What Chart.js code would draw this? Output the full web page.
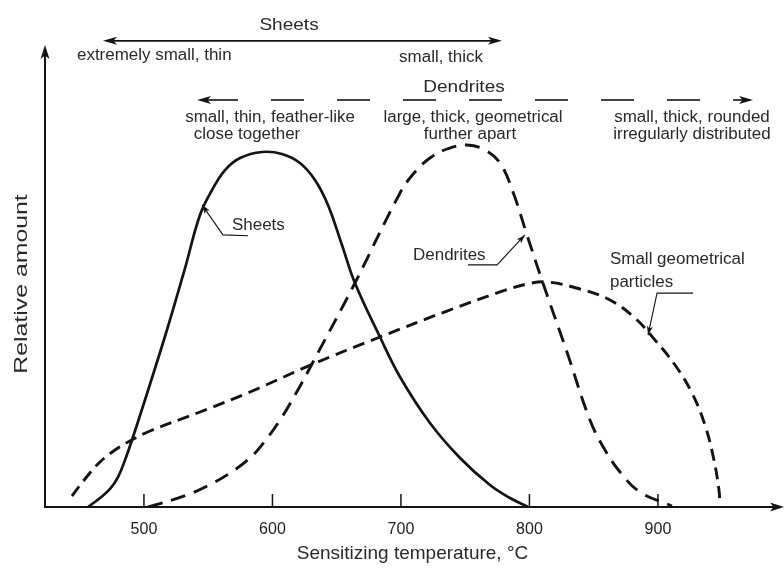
<!DOCTYPE html>
<html><head><meta charset="utf-8">
<script src="https://cdn.jsdelivr.net/npm/chart.js@4.4.1/dist/chart.umd.min.js"></script>
<style>html,body{margin:0;padding:0;background:#fff;}</style>
</head><body>
<canvas id="c" width="784" height="569"></canvas>
<script>
// ---- data (temperature in °C, relative amount 0-100) ----
const tickValues = [500, 600, 700, 800, 900];

const sheetsT = [456.5,465.8,473.6,479.8,485.3,490.7,500.8,517.9,532.0,543.6,553.0,563.1,574.8,591.9,607.4,621.4,633.1,643.2,654.1,664.2,683.7,699.3,722.6,746.0,769.3,784.9,798.9];
const sheetsV = [0,1.95,3.9,6.49,10.17,14.5,23.16,38.31,51.73,63.2,68.61,72.94,75.54,76.84,76.41,74.46,70.78,65.37,56.71,48.48,36.8,28.14,18.18,10.61,4.76,1.95,0];

const dendT = [503.2,533.5,553.7,567.0,582.5,594.2,605.9,617.6,631.6,664.2,699.3,710.9,722.6,735.8,751.4,765.4,777.1,787.2,798.1,810.5,829.2,847.1,858.8,870.5,886.0,910.9];
const dendV = [0,2.6,5.19,7.36,10.61,14.29,18.83,24.24,31.39,48.48,67.97,72.51,75.54,77.49,78.35,77.27,74.46,68.18,58.87,48.48,33.55,18.83,12.34,7.58,3.25,0.22];

const partT = [444.0,454.1,465.8,477.5,489.1,504.7,543.6,582.5,631.6,683.7,735.8,777.1,798.1,813.7,839.3,862.7,882.1,897.7,913.3,926.5,936.6,943.6,947.5,948.3];
const partV = [2.38,6.06,9.74,12.34,14.29,16.45,20.56,24.89,30.95,36.8,42.42,46.54,48.27,48.7,47.19,44.81,40.91,36.15,30.74,24.68,17.75,10.17,3.68,0.43];

const xTitle = 'Sensitizing temperature, °C';
const yTitle = 'Relative amount';

const pts = (t, v) => t.map((x, i) => ({x: x, y: v[i]}));

// ---- annotation texts (positions in data units) ----
const FONT = '"Liberation Sans", Arial, sans-serif';
const INK = '#141414';
const TXT = '#2a2a2a';
const labels = [
  {t: 'Sheets', x: 612.9, y: 104.3, size: 17, sx: 1.12, align: 'center'},
  {t: 'extremely small, thin', x: 447.9, y: 97.6, size: 16, sx: 1.06, align: 'left'},
  {t: 'small, thick', x: 731.2, y: 97.2, size: 16, sx: 1.06, align: 'center'},
  {t: 'Dendrites', x: 749.1, y: 90.9, size: 17, sx: 1.12, align: 'center'},
  {t: 'small, thin, feather-like', x: 598.1, y: 84.2, size: 16, sx: 1.06, align: 'center'},
  {t: 'close together', x: 580.2, y: 80.7, size: 16, sx: 1.06, align: 'center'},
  {t: 'large, thick, geometrical', x: 756.1, y: 84.2, size: 16, sx: 1.06, align: 'center'},
  {t: 'further apart', x: 753.7, y: 80.7, size: 16, sx: 1.06, align: 'center'},
  {t: 'small, thick, rounded', x: 926.5, y: 84.2, size: 16, sx: 1.06, align: 'center'},
  {t: 'irregularly distributed', x: 926.5, y: 80.7, size: 16, sx: 1.06, align: 'center'},
  {t: 'Sheets', x: 568.5, y: 61.0, size: 16, sx: 1.06, align: 'left'},
  {t: 'Dendrites', x: 709.4, y: 54.5, size: 16, sx: 1.06, align: 'left'},
  {t: 'Small geometrical', x: 862.7, y: 53.5, size: 16, sx: 1.06, align: 'left'},
  {t: 'particles', x: 862.7, y: 48.5, size: 16, sx: 1.06, align: 'left'}
];
// leader lines: polyline, arrow at last point
const leaders = [
  [[581.0, 58.7], [561.5, 58.9], [545.2, 65.4]],
  [[752.2, 52.4], [774.8, 52.4], [796.5, 58.9]],
  [[927.3, 46.3], [899.3, 46.3], [892.3, 37.2]]
];
const rangeArrows = [
  {from: 468.1, to: 778.6, y: 100.9, dash: []},
  {from: 541.3, to: 974.0, y: 88.1, dash: [33, 33]}
];

function arrowHead(ctx, x1, y1, x2, y2, len, half) {
  const a = Math.atan2(y2 - y1, x2 - x1);
  ctx.save();
  ctx.translate(x2, y2);
  ctx.rotate(a);
  ctx.beginPath();
  ctx.moveTo(0, 0);
  ctx.lineTo(-len, -half);
  ctx.lineTo(-len * 0.75, 0);
  ctx.lineTo(-len, half);
  ctx.closePath();
  ctx.fill();
  ctx.restore();
}

const deco = {
  id: 'deco',
  afterDraw(chart) {
    const ctx = chart.ctx, xs = chart.scales.x, ys = chart.scales.y, ca = chart.chartArea;
    const X = v => xs.getPixelForValue(v), Y = v => ys.getPixelForValue(v);
    ctx.save();
    ctx.strokeStyle = INK; ctx.fillStyle = INK;
    // axes with arrows
    ctx.lineWidth = 2;
    ctx.beginPath();
    ctx.moveTo(ca.left, ca.top + 4); ctx.lineTo(ca.left, ca.bottom); ctx.lineTo(ca.right, ca.bottom);
    ctx.stroke();
    arrowHead(ctx, ca.left, ca.bottom, ca.left, ca.top, 14, 4.5);
    arrowHead(ctx, ca.left, ca.bottom, ca.right + 4, ca.bottom, 14, 4.5);
    // inward ticks
    ctx.lineWidth = 1.5;
    xs.ticks.forEach(tk => {
      const px = X(tk.value);
      ctx.beginPath(); ctx.moveTo(px, ca.bottom); ctx.lineTo(px, ca.bottom - 13); ctx.stroke();
    });
    // range arrows
    ctx.lineWidth = 1.6;
    rangeArrows.forEach(r => {
      const x1 = X(r.from), x2 = X(r.to), y = Y(r.y);
      ctx.setLineDash(r.dash);
      ctx.beginPath();
      ctx.moveTo(x1 + 8, y); ctx.lineTo(x2 - 8, y); ctx.stroke();
      ctx.setLineDash([]);
      arrowHead(ctx, x2, y, x1, y, 14, 4);
      arrowHead(ctx, x1, y, x2, y, 14, 4);
    });
    // leaders
    ctx.lineWidth = 1.1;
    leaders.forEach(L => {
      ctx.beginPath();
      L.forEach((p, i) => { const px = X(p[0]), py = Y(p[1]); i ? ctx.lineTo(px, py) : ctx.moveTo(px, py); });
      ctx.stroke();
      const a = L[L.length - 2], b = L[L.length - 1];
      arrowHead(ctx, X(a[0]), Y(a[1]), X(b[0]), Y(b[1]), 9, 3);
    });
    // texts
    ctx.fillStyle = TXT;
    ctx.textBaseline = 'middle';
    labels.forEach(l => {
      ctx.save();
      ctx.font = l.size + 'px ' + FONT;
      ctx.textAlign = l.align;
      ctx.translate(X(l.x), Y(l.y));
      ctx.scale(l.sx, 1);
      ctx.fillText(l.t, 0, 0);
      ctx.restore();
    });
    // y axis title
    ctx.save();
    ctx.font = '18px ' + FONT;
    ctx.textAlign = 'center';
    ctx.translate(22, (ca.top + ca.bottom) / 2 + 8);
    ctx.rotate(-Math.PI / 2);
    ctx.scale(1.38, 1);
    ctx.fillText(yTitle, 0, 0);
    ctx.restore();
    ctx.restore();
  }
};

new Chart(document.getElementById('c'), {
  type: 'scatter',
  data: {
    datasets: [
      {label: 'Sheets', data: pts(sheetsT, sheetsV), borderColor: INK, borderWidth: 2.7, borderDash: []},
      {label: 'Dendrites', data: pts(dendT, dendV), borderColor: INK, borderWidth: 2.9, borderDash: [15, 9]},
      {label: 'Small geometrical particles', data: pts(partT, partV), borderColor: INK, borderWidth: 2.9, borderDash: [12, 7]}
    ].map(d => Object.assign(d, {showLine: true, pointRadius: 0, pointHoverRadius: 0, fill: false, tension: 0.4}))
  },
  options: {
    responsive: false,
    animation: false,
    devicePixelRatio: 1,
    layout: {padding: {top: 45, right: 4, left: 0, bottom: 0}},
    plugins: {legend: {display: false}, tooltip: {enabled: false}},
    scales: {
      x: {
        type: 'linear', min: 423, max: 995,
        grid: {display: false}, border: {display: false},
        afterBuildTicks: s => { s.ticks = tickValues.map(v => ({value: v})); },
        ticks: {font: {size: 16, family: FONT}, color: '#222', padding: 5, maxRotation: 0, autoSkip: false},
        title: {display: true, text: xTitle, font: {size: 19, family: FONT}, color: TXT, padding: {top: 0, bottom: 4}},
        afterFit: s => { s.height = 62; }
      },
      y: {
        min: 0, max: 100,
        grid: {display: false}, border: {display: false},
        ticks: {display: false},
        afterFit: s => { s.width = 45; }
      }
    }
  },
  plugins: [deco]
});
</script>
</body></html>
